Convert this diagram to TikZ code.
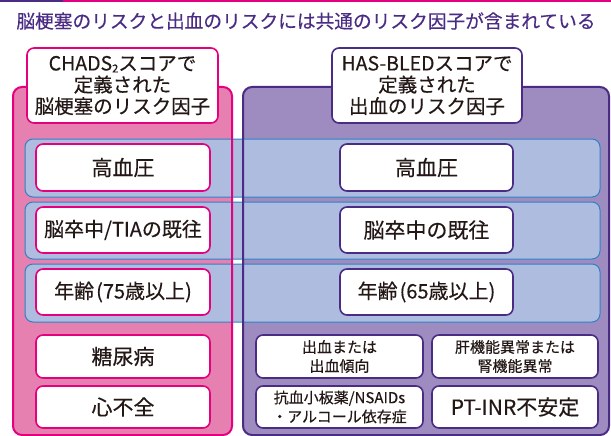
\documentclass[tikz,border=0pt]{standalone}
\usepackage{fontspec}
\setmainfont{Noto Sans CJK JP}[FakeBold=0.35]
\definecolor{pinkfill}{HTML}{E680B0}
\definecolor{magentaline}{HTML}{E4007F}
\definecolor{purplefill}{HTML}{9E8BC0}
\definecolor{purpleline}{HTML}{4A2C85}
\definecolor{bandfill}{HTML}{AEBCE0}
\definecolor{bandline}{HTML}{2E82C4}
\definecolor{txt}{HTML}{231815}
\begin{document}
\begin{tikzpicture}[x=1pt,y=-1pt,
  every node/.style={inner sep=0pt, outer sep=0pt, text=txt, align=center},
  pinkbox/.style={draw=magentaline, line width=1.6pt, fill=white, rounded corners=7pt},
  purplebox/.style={draw=purpleline, line width=1.6pt, fill=white, rounded corners=7pt},
  bigtxt/.style={font=\fontsize{21}{24}\selectfont},
  hdrtxt/.style={font=\fontsize{19.5}{21.5}\selectfont},
  smalltxt/.style={font=\fontsize{15}{19}\selectfont},
  band/.style={draw=bandline, line width=1pt, fill=bandfill, rounded corners=8pt}
]
\useasboundingbox (0,0) rectangle (611,436);
\fill[white] (0,0) rectangle (611,436);
% top rule
\draw[purpleline, line width=2pt] (0,1) -- (63,1);
\draw[magentaline, line width=2pt] (63,1) -- (611,1);
% title
\node[text=purpleline, font=\fontsize{18.7}{22}\selectfont] (title) at (306,21) {脳梗塞のリスクと出血のリスクには共通のリスク因子が含まれている};
% panel fills
\fill[pinkfill, rounded corners=9pt] (13,87) rectangle (232,435);
\fill[purplefill, rounded corners=9pt] (243,87) rectangle (609,435);
% bands
\draw[band] (25,139) rectangle (600,197);
\draw[band] (25,202) rectangle (600,259);
\draw[band] (25,264) rectangle (600,322);
% panel borders
\draw[magentaline, line width=2pt, rounded corners=9pt] (13,87) rectangle (232,435);
\draw[purpleline, line width=2pt, rounded corners=9pt] (243,87) rectangle (609,435);
% headers
\node[pinkbox, hdrtxt, minimum width=191pt, minimum height=75pt] (hdrL) at (122.5,85.5)
  {CHADS{\fontsize{11}{11}\selectfont\raisebox{-2pt}{2}}スコアで\\定義された\\脳梗塞のリスク因子};
\node[purplebox, hdrtxt, minimum width=190pt, minimum height=75pt] (hdrR) at (427,85.5)
  {HAS-BLEDスコアで\\定義された\\出血のリスク因子};
% left boxes
\node[pinkbox, bigtxt, minimum width=174pt, minimum height=47pt] (l1) at (123,167.5) {高血圧};
\node[pinkbox, font=\fontsize{20}{24}\selectfont, minimum width=174pt, minimum height=46pt] (l2) at (123,230) {脳卒中/TIAの既往};
\node[pinkbox, font=\fontsize{20}{24}\selectfont, minimum width=174pt, minimum height=46pt] (l3) at (123,292) {年齢\hspace{2pt}(75歳以上)};
\node[pinkbox, bigtxt, minimum width=174pt, minimum height=43pt] (l4) at (123,356.5) {糖尿病};
\node[pinkbox, bigtxt, minimum width=174pt, minimum height=42pt] (l5) at (123,407) {心不全};
% right band boxes
\node[purplebox, bigtxt, minimum width=173pt, minimum height=47pt] (r1) at (426.5,167.5) {高血圧};
\node[purplebox, bigtxt, minimum width=173pt, minimum height=46pt] (r2) at (426.5,230) {脳卒中の既往};
\node[purplebox, font=\fontsize{20}{24}\selectfont, minimum width=173pt, minimum height=46pt] (r3) at (426.5,292) {年齢\hspace{2pt}(65歳以上)};
% bottom right boxes
\node[purplebox, smalltxt, minimum width=167pt, minimum height=43pt] (r4) at (339.5,356.5) {出血または\\出血傾向};
\node[purplebox, smalltxt, minimum width=166pt, minimum height=43pt] (r5) at (515,356.5) {肝機能異常または\\腎機能異常};
\node[purplebox, smalltxt, minimum width=167pt, minimum height=42pt] (r6) at (339.5,407) {抗血小板薬/NSAIDs\\・アルコール依存症};
\node[purplebox, font=\fontsize{21}{24}\selectfont, minimum width=166pt, minimum height=42pt] (r7) at (515,407) {PT-INR不安定};
\end{tikzpicture}
\end{document}
